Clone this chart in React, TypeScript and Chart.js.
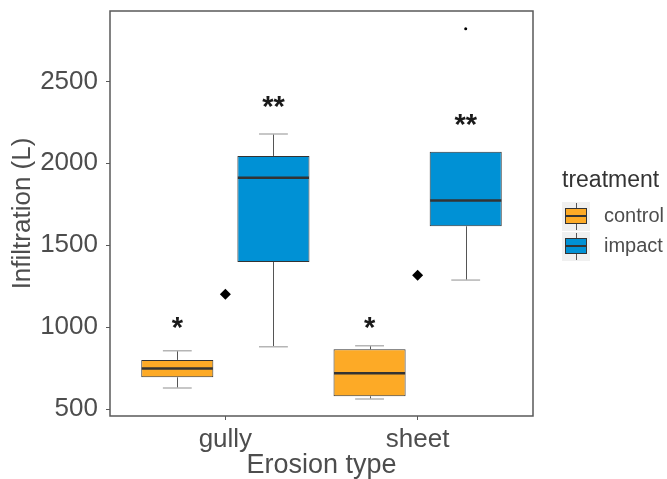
import React, { useEffect, useRef } from 'react';
import { Chart, registerables } from 'chart.js';

Chart.register(...registerables);

// ---- data ----
const categories = ['gully', 'sheet'];
const treatments = ['control', 'impact'];

const controlLow = [630, 563];
const controlQ1 = [695, 579];
const controlMedian = [748, 720];
const controlQ3 = [801, 866];
const controlHigh = [857, 888];

const impactLow = [882, 1288];
const impactQ1 = [1398, 1616];
const impactMedian = [1912, 1774];
const impactQ3 = [2045, 2071];
const impactHigh = [2179, 2071];

const impactOutliers = [[], [2821]];
const overallMean = [1201, 1317];

const controlStars = ['*', '*'];
const controlStarLevel = [1040, 1040];
const impactStars = ['**', '**'];
const impactStarLevel = [2389, 2274];

const yTicks = [500, 1000, 1500, 2000, 2500];

// ---- styles ----
const FONT = '"Liberation Sans", Arial, Helvetica, sans-serif';
const ORANGE = '#FDAA26';
const BLUE = '#0091D5';
const TEXT = '#4D4D4D';
const DODGE = 0.25;

const groups = [
  { low: controlLow, q1: controlQ1, med: controlMedian, q3: controlQ3, high: controlHigh, shift: -DODGE, stars: controlStars, starLevel: controlStarLevel },
  { low: impactLow, q1: impactQ1, med: impactMedian, q3: impactQ3, high: impactHigh, shift: DODGE, stars: impactStars, starLevel: impactStarLevel },
];

const boxPlugin = {
  id: 'boxExtras',
  beforeDatasetsDraw(chart: any) {
    const { ctx, scales } = chart;
    const xs = scales.x, ys = scales.y;
    const boxW = chart.getDatasetMeta(0).data[0]?.width ?? 72;
    ctx.save();
    groups.forEach((g) => {
      categories.forEach((_, i) => {
        const cx = xs.getPixelForValue(i + 1 + g.shift);
        const yLow = ys.getPixelForValue(g.low[i]);
        const yHigh = ys.getPixelForValue(g.high[i]);
        const yQ1 = ys.getPixelForValue(g.q1[i]);
        const yQ3 = ys.getPixelForValue(g.q3[i]);
        ctx.strokeStyle = '#555555';
        ctx.lineWidth = 1;
        ctx.beginPath();
        ctx.moveTo(Math.round(cx) + 0.5, yQ1);
        ctx.lineTo(Math.round(cx) + 0.5, yLow);
        ctx.moveTo(Math.round(cx) + 0.5, yQ3);
        ctx.lineTo(Math.round(cx) + 0.5, yHigh);
        ctx.stroke();
        const half = boxW * 0.2;
        ctx.strokeStyle = '#B5B5B5';
        ctx.lineWidth = 1.5;
        ctx.beginPath();
        if (g.low[i] < g.q1[i]) {
          ctx.moveTo(cx - half, yLow);
          ctx.lineTo(cx + half, yLow);
        }
        if (g.high[i] > g.q3[i]) {
          ctx.moveTo(cx - half, yHigh);
          ctx.lineTo(cx + half, yHigh);
        }
        ctx.stroke();
      });
    });
    ctx.restore();
  },
  afterDatasetsDraw(chart: any) {
    const { ctx, scales } = chart;
    const xs = scales.x, ys = scales.y;
    const boxW = chart.getDatasetMeta(0).data[0]?.width ?? 72;
    ctx.save();
    groups.forEach((g) => {
      categories.forEach((_, i) => {
        const cx = xs.getPixelForValue(i + 1 + g.shift);
        const yMed = ys.getPixelForValue(g.med[i]);
        ctx.strokeStyle = '#333333';
        ctx.lineWidth = 2.5;
        ctx.beginPath();
        ctx.moveTo(cx - boxW / 2 + 0.5, yMed);
        ctx.lineTo(cx + boxW / 2 - 0.5, yMed);
        ctx.stroke();
        // significance stars
        ctx.fillStyle = '#1A1A1A';
        ctx.font = `bold 29px ${FONT}`;
        ctx.textAlign = 'center';
        ctx.textBaseline = 'alphabetic';
        ctx.fillText(g.stars[i], cx, ys.getPixelForValue(g.starLevel[i]) + 16);
      });
    });
    ctx.restore();
  },
  afterDraw(chart: any) {
    const { ctx, chartArea } = chart;
    ctx.save();
    // panel border
    ctx.strokeStyle = '#595959';
    ctx.lineWidth = 1.5;
    ctx.strokeRect(chartArea.left, chartArea.top, chartArea.right - chartArea.left, chartArea.bottom - chartArea.top);

    // legend
    const lx = chartArea.right + 29;
    ctx.fillStyle = '#333333';
    ctx.font = `23px ${FONT}`;
    ctx.textAlign = 'left';
    ctx.textBaseline = 'alphabetic';
    ctx.fillText('treatment', lx, chartArea.top + 176);
    const keySize = 29;
    const colors = [ORANGE, BLUE];
    treatments.forEach((t, k) => {
      const ky = chartArea.top + 191 + k * (keySize + 1);
      ctx.fillStyle = '#F0F0F0';
      ctx.fillRect(lx, ky, 28, keySize);
      const bx = lx + 3.5, bw = 21, by = ky + 6.5, bh = 15;
      const mid = lx + 14;
      ctx.strokeStyle = '#555555';
      ctx.lineWidth = 1;
      ctx.beginPath();
      ctx.moveTo(Math.round(mid) + 0.5, ky + 1);
      ctx.lineTo(Math.round(mid) + 0.5, by);
      ctx.moveTo(Math.round(mid) + 0.5, by + bh);
      ctx.lineTo(Math.round(mid) + 0.5, ky + keySize - 1);
      ctx.stroke();
      ctx.fillStyle = colors[k];
      ctx.fillRect(bx, by, bw, bh);
      ctx.strokeStyle = '#333333';
      ctx.strokeRect(bx, by, bw, bh);
      ctx.lineWidth = 2;
      ctx.beginPath();
      ctx.moveTo(bx, by + bh / 2);
      ctx.lineTo(bx + bw, by + bh / 2);
      ctx.stroke();
      ctx.fillStyle = TEXT;
      ctx.font = `20px ${FONT}`;
      ctx.textBaseline = 'middle';
      ctx.fillText(t, lx + 42, ky + keySize / 2);
    });
    ctx.restore();
  },
};

export default function App() {
  const canvasRef = useRef<HTMLCanvasElement | null>(null);

  useEffect(() => {
    if (!canvasRef.current) return;
    const outlierPoints: { x: number; y: number }[] = [];
    impactOutliers.forEach((arr, i) => arr.forEach((v) => outlierPoints.push({ x: i + 1 + DODGE, y: v })));

    const chart = new Chart(canvasRef.current, {
      type: 'bar',
      data: {
        datasets: [
          {
            type: 'bar',
            label: 'control',
            data: categories.map((_, i) => ({ x: i + 1 - DODGE, y: [controlQ1[i], controlQ3[i]] })) as any,
            backgroundColor: ORANGE,
            borderColor: '#333333',
            borderWidth: 1,
            borderSkipped: false,
            grouped: false,
            categoryPercentage: 0.75,
            barPercentage: 1,
          } as any,
          {
            type: 'bar',
            label: 'impact',
            data: categories.map((_, i) => ({ x: i + 1 + DODGE, y: [impactQ1[i], impactQ3[i]] })) as any,
            backgroundColor: BLUE,
            borderColor: '#333333',
            borderWidth: 1,
            borderSkipped: false,
            grouped: false,
            categoryPercentage: 0.75,
            barPercentage: 1,
          } as any,
          {
            type: 'scatter',
            label: 'mean',
            data: categories.map((_, i) => ({ x: i + 1, y: overallMean[i] })),
            pointStyle: 'rectRot',
            pointRadius: 5.5,
            backgroundColor: '#000000',
            borderColor: '#000000',
            borderWidth: 0,
          } as any,
          {
            type: 'scatter',
            label: 'outliers',
            data: outlierPoints,
            pointStyle: 'circle',
            pointRadius: 1.5,
            backgroundColor: '#000000',
            borderWidth: 0,
          } as any,
        ],
      },
      options: {
        animation: false,
        responsive: false,
        devicePixelRatio: 1,
        layout: { padding: { left: 0, right: 134, top: 11, bottom: 0 } },
        plugins: { legend: { display: false }, tooltip: { enabled: false } },
        scales: {
          x: {
            type: 'linear',
            min: 0.4,
            max: 2.6,
            offset: false,
            afterBuildTicks: (axis: any) => {
              axis.ticks = categories.map((_, i) => ({ value: i + 1 }));
            },
            afterFit: (s: any) => {
              s.height = 63;
              s.paddingLeft = 0;
              s.paddingRight = 0;
            },
            ticks: {
              autoSkip: false,
              maxRotation: 0,
              padding: 4,
              color: TEXT,
              font: { family: FONT, size: 26 },
              callback: (v: any) => categories[Math.round(Number(v)) - 1] ?? '',
            },
            grid: { display: true, drawOnChartArea: false, drawTicks: true, tickLength: 4, color: '#595959', offset: false },
            border: { display: false },
            title: { display: true, text: 'Erosion type', color: TEXT, font: { family: FONT, size: 27, lineHeight: 1 }, padding: 0 },
          } as any,
          y: {
            type: 'linear',
            min: 459,
            max: 2929,
            beginAtZero: false,
            afterBuildTicks: (axis: any) => {
              axis.ticks = yTicks.map((v) => ({ value: v }));
            },
            afterFit: (s: any) => {
              s.width = 110;
              s.paddingTop = 0;
              s.paddingBottom = 0;
            },
            ticks: { padding: 8, color: TEXT, font: { family: FONT, size: 26 }, callback: (v: any) => String(v) },
            grid: { display: true, drawOnChartArea: false, drawTicks: true, tickLength: 4, color: '#595959' },
            border: { display: false },
            title: { display: true, text: 'Infiltration (L)', color: TEXT, font: { family: FONT, size: 26, lineHeight: 1 }, padding: { top: 10, bottom: 0 } },
          } as any,
        },
      },
      plugins: [boxPlugin],
    });
    return () => chart.destroy();
  }, []);

  return (
    <div style={{ position: 'absolute', left: 0, top: 0, width: 667, height: 479, background: '#ffffff' }}>
      <canvas ref={canvasRef} width={667} height={479} style={{ display: 'block', width: 667, height: 479 }} />
    </div>
  );
}
